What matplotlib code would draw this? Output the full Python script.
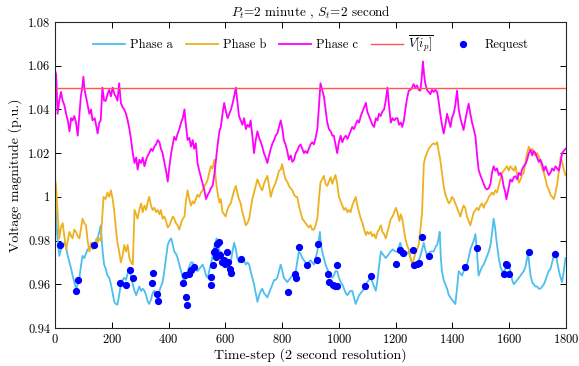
import matplotlib
matplotlib.use("Agg")
import matplotlib.pyplot as plt
import numpy as np

plt.rcParams['font.family'] = 'cmr10'
plt.rcParams['mathtext.fontset'] = 'cm'
plt.rcParams['axes.formatter.use_mathtext'] = True

# ---------------- data ----------------
t_a = [0,4,9,15,21,27,33,39,45,51,57,62,68,74,80,86,91,97,103,109,115,121,127,132,140,146,150,156,161,167,173,179,185,191,197,203,209,214,220,226,232,238,244,250,256,262,268,274,280,286,291,297,303,309,315,321,327,332,338,344,350,356,362,368,373,379,385,391,397,403,409,415,420,426,432,438,444,450,456,461,467,473,479,485,490,496,502,508,514,520,526,532,538,543,549,555,561,569,575,579,584,590,596,601,607,613,619,625,631,637,642,648,654,660,666,672,678,684,689,695,701,707,713,719,725,730,736,742,748,754,760,766,772,777,783,789,795,801,806,812,818,824,830,836,842,848,853,859,865,871,877,882,888,894,900,906,912,918,924,929,933,937,941,947,953,959,965,971,977,982,988,994,1000,1006,1012,1018,1024,1030,1035,1041,1047,1053,1059,1065,1071,1077,1083,1089,1095,1100,1106,1112,1118,1124,1130,1136,1141,1148,1153,1159,1165,1171,1177,1181,1189,1199,1206,1216,1222,1228,1234,1240,1246,1252,1258,1263,1269,1275,1281,1287,1293,1299,1304,1310,1316,1322,1328,1334,1340,1346,1351,1355,1359,1363,1369,1375,1381,1387,1393,1398,1404,1410,1416,1422,1428,1434,1439,1445,1451,1457,1463,1469,1475,1481,1486,1492,1498,1504,1510,1516,1522,1528,1534,1539,1545,1550,1555,1563,1569,1575,1581,1586,1592,1598,1604,1610,1616,1622,1628,1634,1640,1645,1651,1657,1663,1666,1669,1675,1681,1686,1692,1698,1704,1710,1716,1722,1728,1733,1739,1745,1751,1757,1763,1769,1775,1781,1786,1792,1798]
phase_a = [1.005,0.990,0.981,0.973,0.976,0.978,0.979,0.977,0.973,0.970,0.967,0.964,0.961,0.958,0.960,0.963,0.968,0.973,0.972,0.974,0.976,0.976,0.978,0.977,0.978,0.979,0.981,0.984,0.987,0.976,0.969,0.967,0.964,0.963,0.960,0.956,0.952,0.951,0.9507,0.955,0.960,0.962,0.963,0.962,0.965,0.967,0.963,0.960,0.957,0.955,0.957,0.959,0.957,0.958,0.957,0.955,0.952,0.951,0.953,0.956,0.957,0.955,0.955,0.957,0.959,0.961,0.966,0.972,0.978,0.980,0.981,0.978,0.975,0.974,0.972,0.969,0.966,0.963,0.961,0.963,0.966,0.968,0.970,0.970,0.968,0.967,0.966,0.967,0.968,0.969,0.967,0.964,0.963,0.966,0.969,0.973,0.977,0.981,0.977,0.975,0.975,0.973,0.971,0.970,0.969,0.968,0.970,0.975,0.979,0.976,0.972,0.970,0.971,0.972,0.971,0.969,0.970,0.969,0.966,0.963,0.960,0.956,0.952,0.955,0.957,0.958,0.956,0.955,0.954,0.956,0.958,0.960,0.962,0.962,0.963,0.966,0.969,0.966,0.963,0.962,0.961,0.962,0.963,0.964,0.965,0.966,0.970,0.975,0.974,0.972,0.971,0.970,0.969,0.970,0.971,0.970,0.969,0.972,0.975,0.980,0.984,0.978,0.975,0.972,0.969,0.967,0.965,0.964,0.963,0.964,0.966,0.966,0.963,0.961,0.960,0.958,0.956,0.955,0.956,0.957,0.957,0.954,0.951,0.953,0.955,0.956,0.957,0.958,0.960,0.961,0.962,0.963,0.961,0.959,0.957,0.962,0.968,0.975,0.974,0.973,0.972,0.973,0.974,0.9748,0.976,0.975,0.975,0.979,0.976,0.974,0.973,0.974,0.975,0.972,0.970,0.969,0.968,0.970,0.971,0.973,0.976,0.979,0.976,0.973,0.974,0.975,0.975,0.975,0.977,0.978,0.981,0.984,0.972,0.966,0.962,0.960,0.958,0.955,0.954,0.953,0.952,0.951,0.958,0.966,0.965,0.964,0.966,0.967,0.969,0.972,0.976,0.978,0.980,0.983,0.975,0.964,0.966,0.968,0.969,0.971,0.973,0.975,0.978,0.983,0.990,0.986,0.980,0.972,0.968,0.966,0.966,0.967,0.968,0.969,0.966,0.962,0.960,0.961,0.962,0.963,0.964,0.965,0.966,0.968,0.972,0.975,0.971,0.964,0.961,0.960,0.959,0.959,0.958,0.958,0.959,0.960,0.962,0.964,0.966,0.967,0.970,0.973,0.975,0.970,0.966,0.963,0.961,0.966,0.972]

t_b = [0,4,9,15,21,27,33,39,45,51,57,62,68,74,80,86,91,97,103,109,115,121,127,132,140,146,150,156,161,166,171,178,185,191,197,203,209,214,220,226,232,238,244,250,256,262,268,274,278,280,286,291,297,303,309,315,321,327,332,338,344,350,356,362,368,373,379,385,391,397,403,409,415,420,426,432,438,444,450,456,461,467,473,479,485,490,496,502,508,514,520,526,532,538,543,549,555,561,565,569,575,579,584,590,596,601,607,613,619,625,631,637,642,648,654,660,666,672,678,684,689,695,701,707,713,719,725,730,736,742,748,754,760,766,772,777,783,789,795,800,806,812,818,824,830,836,842,848,853,859,865,871,877,882,888,894,900,906,912,918,924,929,935,941,947,953,959,965,971,977,982,988,994,1000,1006,1012,1018,1024,1030,1035,1041,1047,1053,1059,1065,1071,1077,1083,1089,1095,1100,1106,1112,1118,1124,1130,1136,1141,1148,1153,1159,1165,1171,1177,1183,1189,1195,1201,1206,1213,1218,1223,1229,1234,1240,1246,1252,1258,1263,1269,1275,1281,1287,1293,1299,1304,1310,1316,1322,1328,1334,1340,1346,1351,1357,1363,1369,1375,1381,1387,1393,1398,1404,1410,1416,1422,1428,1434,1439,1445,1451,1457,1463,1469,1475,1481,1486,1492,1498,1504,1510,1516,1522,1528,1534,1539,1545,1551,1557,1563,1569,1575,1580,1586,1592,1598,1604,1610,1616,1622,1628,1634,1640,1645,1651,1657,1663,1669,1675,1681,1686,1692,1698,1704,1710,1716,1722,1728,1733,1739,1745,1751,1757,1763,1769,1775,1781,1786,1792,1798]
phase_b = [1.008,1.005,0.993,0.981,0.986,0.988,0.982,0.976,0.980,0.984,0.982,0.981,0.985,0.984,0.982,0.981,0.985,0.990,0.988,0.987,0.980,0.975,0.979,0.976,0.978,0.981,0.979,0.981,0.980,0.990,1.000,0.999,1.002,1.000,1.003,0.999,0.993,0.986,0.979,0.975,0.970,0.973,0.978,0.975,0.978,0.972,0.970,0.969,0.985,0.994,0.992,0.990,0.994,0.997,0.993,0.996,0.994,0.998,1.000,0.996,0.994,0.995,0.993,0.994,0.992,0.994,0.990,0.991,0.989,0.986,0.987,0.989,0.991,0.990,0.988,0.987,0.985,0.988,0.990,0.991,0.998,1.003,0.999,0.996,0.998,0.997,0.999,1.001,1.000,1.002,1.003,1.005,1.006,1.008,1.011,1.014,1.013,1.017,1.010,1.005,1.000,0.9974,0.999,0.993,0.992,0.991,0.994,0.996,0.997,1.000,1.003,1.005,1.002,0.999,0.997,0.993,0.990,0.987,0.988,0.990,0.994,0.999,1.002,1.005,1.008,1.006,1.004,1.003,1.006,1.008,1.0096,1.005,1.000,1.003,1.005,1.0065,1.009,1.012,1.0125,1.015,1.011,1.008,1.007,1.005,1.004,1.003,1.001,1.000,1.000,0.996,0.993,0.990,0.989,0.988,0.987,0.986,0.987,0.985,0.985,0.987,0.990,0.998,1.0065,1.008,1.0096,1.006,1.005,1.007,1.009,1.006,1.008,1.010,1.006,1.000,0.998,0.996,0.994,0.995,0.993,0.994,0.993,0.996,0.998,1.000,0.996,0.993,0.990,0.988,0.985,0.9825,0.984,0.983,0.984,0.982,0.983,0.981,0.984,0.985,0.987,0.984,0.983,0.981,0.984,0.987,0.990,0.991,0.993,0.995,0.993,0.989,0.992,0.990,0.985,0.981,0.978,0.976,0.972,0.969,0.971,0.974,0.976,0.978,0.985,0.993,1.015,1.018,1.020,1.022,1.023,1.024,1.0245,1.024,1.025,1.021,1.017,1.011,1.005,1.001,0.999,0.997,0.998,1.000,0.999,0.997,0.995,0.993,0.991,0.994,0.996,0.995,0.991,0.989,0.987,0.990,0.993,0.994,0.995,0.994,0.996,0.997,0.995,0.997,0.998,1.000,1.001,1.002,1.001,1.003,1.002,1.005,1.008,1.011,1.012,1.013,1.014,1.012,1.014,1.013,1.012,1.014,1.010,1.0065,1.008,1.010,1.011,1.016,1.020,1.023,1.021,1.022,1.020,1.019,1.020,1.0185,1.016,1.013,1.011,1.008,1.005,1.0034,1.001,1.000,0.999,1.002,1.006,1.012,1.0185,1.016,1.0125,1.010]

t_c = [0,4,9,15,21,27,33,39,45,51,57,62,68,74,80,86,91,96,100,104,109,115,121,127,132,140,146,150,156,161,167,173,179,185,191,197,203,209,214,220,226,232,238,244,250,256,262,268,274,280,286,291,297,303,309,315,321,327,332,338,344,350,356,362,368,373,379,385,391,397,403,409,415,420,426,432,438,444,450,456,461,467,473,479,485,490,496,502,508,514,520,526,532,538,543,549,555,561,567,573,579,584,590,596,602,608,614,620,626,631,637,642,648,654,660,666,672,678,684,689,695,701,707,713,719,725,730,736,742,748,754,760,766,772,777,783,789,795,801,806,812,818,824,830,836,842,848,853,859,865,871,877,882,888,894,900,906,912,918,924,929,935,941,947,953,959,965,971,977,982,988,994,1000,1006,1012,1018,1024,1030,1035,1041,1047,1053,1059,1065,1071,1077,1083,1089,1095,1100,1106,1112,1118,1124,1130,1136,1141,1147,1153,1159,1165,1171,1177,1183,1189,1195,1201,1206,1212,1218,1223,1229,1234,1240,1246,1252,1258,1263,1269,1275,1281,1287,1292,1296,1300,1304,1310,1316,1322,1328,1334,1340,1346,1351,1357,1363,1369,1375,1381,1387,1393,1398,1404,1410,1416,1422,1428,1434,1439,1445,1451,1457,1463,1469,1475,1481,1486,1492,1498,1504,1510,1516,1522,1528,1534,1539,1545,1551,1557,1563,1569,1575,1580,1586,1590,1598,1604,1610,1616,1622,1628,1634,1640,1645,1651,1657,1663,1669,1675,1681,1686,1692,1698,1704,1710,1716,1722,1728,1733,1739,1745,1751,1757,1763,1769,1775,1781,1786,1792,1798]
phase_c = [1.058,1.056,1.038,1.044,1.048,1.044,1.042,1.038,1.035,1.030,1.036,1.035,1.037,1.034,1.028,1.038,1.046,1.050,1.055,1.049,1.046,1.042,1.038,1.040,1.035,1.036,1.032,1.029,1.034,1.035,1.050,1.044,1.044,1.047,1.049,1.046,1.050,1.047,1.046,1.044,1.052,1.043,1.041,1.040,1.038,1.035,1.031,1.026,1.020,1.0155,1.018,1.0125,1.017,1.0155,1.018,1.014,1.017,1.019,1.020,1.022,1.021,1.023,1.024,1.026,1.025,1.022,1.020,1.016,1.012,1.007,1.014,1.020,1.024,1.0275,1.026,1.029,1.031,1.034,1.036,1.040,1.033,1.026,1.027,1.023,1.026,1.022,1.0245,1.0155,1.012,1.009,1.006,1.003,0.999,1.001,1.002,1.004,1.005,1.010,1.017,1.024,1.030,1.032,1.038,1.043,1.039,1.036,1.038,1.040,1.043,1.046,1.050,1.044,1.037,1.035,1.033,1.036,1.031,1.033,1.032,1.035,1.028,1.020,1.026,1.030,1.027,1.025,1.023,1.020,1.018,1.0155,1.019,1.022,1.0245,1.026,1.028,1.029,1.032,1.035,1.031,1.026,1.024,1.021,1.017,1.019,1.016,1.017,1.020,1.021,1.023,1.024,1.022,1.020,1.021,1.020,1.022,1.024,1.025,1.024,1.027,1.031,1.040,1.052,1.049,1.046,1.040,1.034,1.031,1.030,1.028,1.028,1.024,1.020,1.025,1.028,1.025,1.027,1.028,1.0265,1.028,1.030,1.032,1.031,1.033,1.035,1.034,1.037,1.039,1.041,1.043,1.039,1.037,1.035,1.033,1.032,1.036,1.035,1.038,1.037,1.039,1.040,1.044,1.050,1.041,1.034,1.036,1.035,1.036,1.036,1.033,1.034,1.032,1.035,1.040,1.045,1.0486,1.049,1.050,1.0516,1.050,1.051,1.049,1.0486,1.055,1.062,1.056,1.052,1.049,1.048,1.047,1.049,1.048,1.049,1.048,1.044,1.038,1.033,1.029,1.033,1.038,1.035,1.032,1.036,1.038,1.042,1.0486,1.040,1.036,1.033,1.0306,1.035,1.039,1.0426,1.038,1.034,1.031,1.0275,1.020,1.0125,1.010,1.008,1.006,1.004,1.0034,1.004,1.006,1.011,1.014,1.012,1.013,1.010,1.011,1.009,1.005,1.002,0.9989,1.004,1.008,1.007,1.009,1.0095,1.008,1.011,1.010,1.0125,1.014,1.015,1.017,1.020,1.0215,1.019,1.021,1.020,1.018,1.016,1.017,1.015,1.012,1.014,1.012,1.010,1.011,1.013,1.012,1.014,1.013,1.012,1.016,1.020,1.021,1.022]

v_bar = 1.05

t_req = [16,73,81,139,230,249,263,274,341,345,359,363,452,457,460,465,472,480,488,549,551,557,560,563,567,569,577,582,588,594,600,606,610,615,619,656,820,845,850,858,887,924,926,961,965,978,985,992,994,1093,1113,1202,1214,1224,1261,1266,1275,1283,1294,1317,1443,1486,1580,1589,1592,1599,1669,1760]
v_req = [0.978,0.957,0.962,0.978,0.9605,0.9596,0.9665,0.963,0.9607,0.965,0.9557,0.9525,0.9605,0.9643,0.9543,0.9507,0.9645,0.9665,0.968,0.9598,0.9635,0.9688,0.975,0.9753,0.9725,0.9786,0.9793,0.9735,0.970,0.9712,0.9695,0.9748,0.970,0.967,0.965,0.9718,0.9567,0.9645,0.963,0.977,0.9688,0.971,0.9786,0.9647,0.9612,0.9595,0.959,0.9592,0.9688,0.959,0.964,0.9692,0.9756,0.9745,0.9756,0.969,0.9695,0.9697,0.9816,0.9728,0.968,0.9766,0.9646,0.9695,0.969,0.9646,0.9748,0.974]

x_ticks = [0, 200, 400, 600, 800, 1000, 1200, 1400, 1600, 1800]
y_ticks = [0.94, 0.96, 0.98, 1.00, 1.02, 1.04, 1.06, 1.08]
y_tick_labels = ['0.94', '0.96', '0.98', '1', '1.02', '1.04', '1.06', '1.08']

# ---------------- plot ----------------
fig = plt.figure(figsize=(5.79, 3.66), dpi=100)
ax = fig.add_axes([0.095, 0.1038, 0.8826, 0.836])

ax.plot(t_a, phase_a, color='#4DBEEE', lw=1.3, label='Phase a')
ax.plot(t_b, phase_b, color='#EDB120', lw=1.3, label='Phase b')
ax.plot(t_c, phase_c, color='#FF00FF', lw=1.3, label='Phase c')
ax.plot([0, 1800], [v_bar, v_bar], color='#FF5555', lw=1.0, label=r'$\overline{V[i_p]}$')
ax.plot(t_req, v_req, 'o', color='#0000FF', markersize=4.2, ls='none', label='Request')

ax.set_xlim(0, 1800)
ax.set_ylim(0.94, 1.08)
ax.set_xticks(x_ticks)
ax.set_yticks(y_ticks)
ax.set_yticklabels(y_tick_labels)
ax.tick_params(direction='in', top=True, right=True, labelsize=9, length=4, width=0.7)
for s in ax.spines.values():
    s.set_linewidth(0.8)
    s.set_color('#262626')

ax.set_xlabel('Time-step (2 second resolution)', fontsize=10, labelpad=2)
ax.set_ylabel('Voltage magnitude (p.u.)', fontsize=10, labelpad=4)
ax.set_title(r'$P_t$=2 minute , $S_t$=2 second', fontsize=9.5, pad=4)

ax.legend(loc='upper center', bbox_to_anchor=(0.5, 1.0), ncol=5, frameon=False,
          fontsize=9, handlelength=2.6, columnspacing=1.0, handletextpad=0.4)

fig.savefig('out.png', dpi=100)
